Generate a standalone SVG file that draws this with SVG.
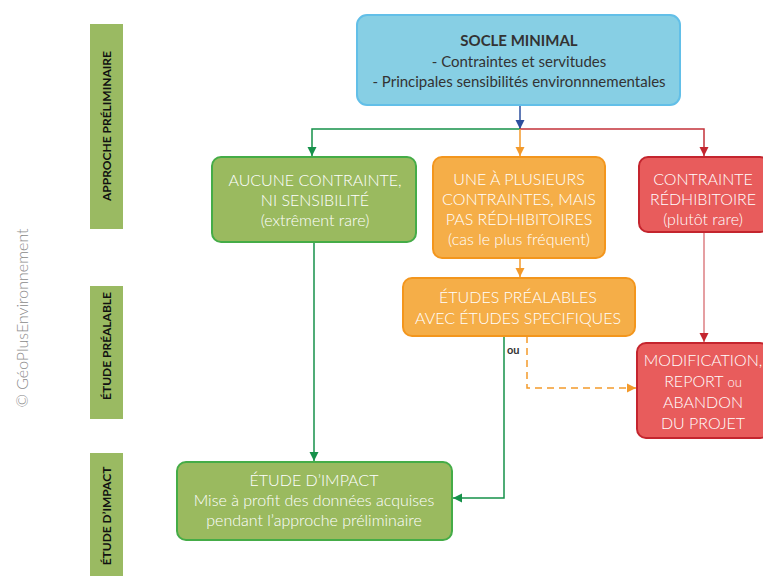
<svg xmlns="http://www.w3.org/2000/svg" width="763" height="576" viewBox="0 0 763 576">
<style>
  .t { font-family: Lato, "Open Sans", "Liberation Sans", sans-serif; text-anchor: middle; }
  .w { fill: #ffffff; font-size: 16px; font-weight: 300; }
  .d { fill: #333333; font-size: 15px; }
  .side { font-family: Lato, "Liberation Sans", sans-serif; font-weight: bold; font-size: 12px; fill: #111; text-anchor: middle; }
  .bar { fill: #9aba62; }
  .ln { fill: none; stroke-width: 1.5; }
</style>
<defs>
  <marker id="aBlue" viewBox="0 0 10 10" refX="10" refY="5" markerWidth="9" markerHeight="11" markerUnits="userSpaceOnUse" orient="auto"><path d="M0,0 L10,5 L0,10 z" fill="#2d4f9e"/></marker>
  <marker id="aGreen" viewBox="0 0 10 10" refX="10" refY="5" markerWidth="9" markerHeight="11" markerUnits="userSpaceOnUse" orient="auto"><path d="M0,0 L10,5 L0,10 z" fill="#16914a"/></marker>
  <marker id="aOrange" viewBox="0 0 10 10" refX="10" refY="5" markerWidth="9" markerHeight="11" markerUnits="userSpaceOnUse" orient="auto"><path d="M0,0 L10,5 L0,10 z" fill="#f39a2b"/></marker>
  <marker id="aRed" viewBox="0 0 10 10" refX="10" refY="5" markerWidth="9" markerHeight="11" markerUnits="userSpaceOnUse" orient="auto"><path d="M0,0 L10,5 L0,10 z" fill="#c4262f"/></marker>
</defs>
<rect width="763" height="576" fill="#ffffff"/>

<g id="copyright">
  <text transform="translate(28,318) rotate(-90)" text-anchor="middle" font-family="Lato, 'Open Sans', sans-serif" font-weight="300" font-size="16" fill="#8a8a8a">© GéoPlusEnvironnement</text>
</g>

<g id="phase-approche">
  <rect class="bar" x="90" y="24" width="33" height="205"/>
  <text class="side" transform="translate(111,126) rotate(-90)" font-size="13">APPROCHE PRÉLIMINAIRE</text>
</g>
<g id="phase-prealable">
  <rect class="bar" x="90" y="286" width="33" height="133"/>
  <text class="side" transform="translate(111,346) rotate(-90)">ÉTUDE PRÉALABLE</text>
</g>
<g id="phase-impact">
  <rect class="bar" x="90" y="453" width="33" height="123"/>
  <text class="side" transform="translate(111,516) rotate(-90)">ÉTUDE D’IMPACT</text>
</g>

<g id="connectors">
  <path class="ln" d="M520,105 V129" stroke="#2d4f9e" marker-end="url(#aBlue)"/>
  <path class="ln" d="M520,129 H312 V156" stroke="#16914a" marker-end="url(#aGreen)"/>
  <path class="ln" d="M520,129 H704 V156" stroke="#c4323a" marker-end="url(#aRed)"/>
  <path class="ln" d="M520,129 V156" stroke="#f39a2b" marker-end="url(#aOrange)"/>
  <path class="ln" d="M520,258 V277" stroke="#f39a2b" marker-end="url(#aOrange)"/>
  <path class="ln" d="M704,232 V342" stroke="#dc7f83" marker-end="url(#aRed)"/>
  <path class="ln" d="M314,242 V461" stroke="#16914a" marker-end="url(#aGreen)"/>
  <path class="ln" d="M504,336 V498 H453" stroke="#16914a" marker-end="url(#aGreen)"/>
  <path class="ln" d="M527,336 V388 H636" stroke="#f39a2b" stroke-dasharray="7,5" marker-end="url(#aOrange)"/>
  <text x="507" y="354" font-family="Lato, 'Liberation Sans', sans-serif" font-weight="bold" font-size="11" fill="#333">ou</text>
</g>

<g id="socle">
  <rect x="357" y="15" width="323" height="90" rx="10" fill="#87cfe4" stroke="#62bfe8" stroke-width="2"/>
  <text class="t d" x="519" y="46" font-weight="bold" font-size="16">SOCLE MINIMAL</text>
  <text class="t d" x="519" y="67">- Contraintes et servitudes</text>
  <text class="t d" x="519" y="87">- Principales sensibilités environnnementales</text>
</g>

<g id="aucune">
  <rect x="212" y="157" width="204" height="85" rx="9" fill="#9aba5f" stroke="#45ac47" stroke-width="2"/>
  <text class="t w" x="315" y="186">AUCUNE CONTRAINTE,</text>
  <text class="t w" x="315" y="206">NI SENSIBILITÉ</text>
  <text class="t w" x="315" y="226" font-size="15">(extrêment rare)</text>
</g>

<g id="plusieurs">
  <rect x="433" y="157" width="172" height="101" rx="9" fill="#f5ae48" stroke="#f3961d" stroke-width="2"/>
  <text class="t w" x="519" y="185">UNE À PLUSIEURS</text>
  <text class="t w" x="519" y="205">CONTRAINTES, MAIS</text>
  <text class="t w" x="519" y="225">PAS RÉDHIBITOIRES</text>
  <text class="t w" x="519" y="245" font-size="15">(cas le plus fréquent)</text>
</g>

<g id="redhibitoire">
  <rect x="639" y="157" width="130" height="75" rx="9" fill="#e85c5c" stroke="#c4252e" stroke-width="2"/>
  <text class="t w" x="703" y="185">CONTRAINTE</text>
  <text class="t w" x="703" y="205">RÉDHIBITOIRE</text>
  <text class="t w" x="703" y="225" font-size="15">(plutôt rare)</text>
</g>

<g id="prealables">
  <rect x="403" y="278" width="232" height="58" rx="9" fill="#f5ae48" stroke="#f3961d" stroke-width="2"/>
  <text class="t w" x="518" y="303">ÉTUDES PRÉALABLES</text>
  <text class="t w" x="518" y="324">AVEC ÉTUDES SPECIFIQUES</text>
</g>

<g id="modification">
  <rect x="637" y="343" width="132" height="95" rx="9" fill="#e85c5c" stroke="#c4252e" stroke-width="2"/>
  <text class="t w" x="703" y="366">MODIFICATION,</text>
  <text class="t w" x="703" y="387">REPORT <tspan font-size="13">ou</tspan></text>
  <text class="t w" x="703" y="408">ABANDON</text>
  <text class="t w" x="703" y="429">DU PROJET</text>
</g>

<g id="impact">
  <rect x="177" y="462" width="275" height="78" rx="9" fill="#9aba5f" stroke="#45ac47" stroke-width="2"/>
  <text class="t w" x="314" y="486">ÉTUDE D’IMPACT</text>
  <text class="t w" x="314" y="506" font-size="15">Mise à profit des données acquises</text>
  <text class="t w" x="314" y="526" font-size="15">pendant l’approche préliminaire</text>
</g>
</svg>
